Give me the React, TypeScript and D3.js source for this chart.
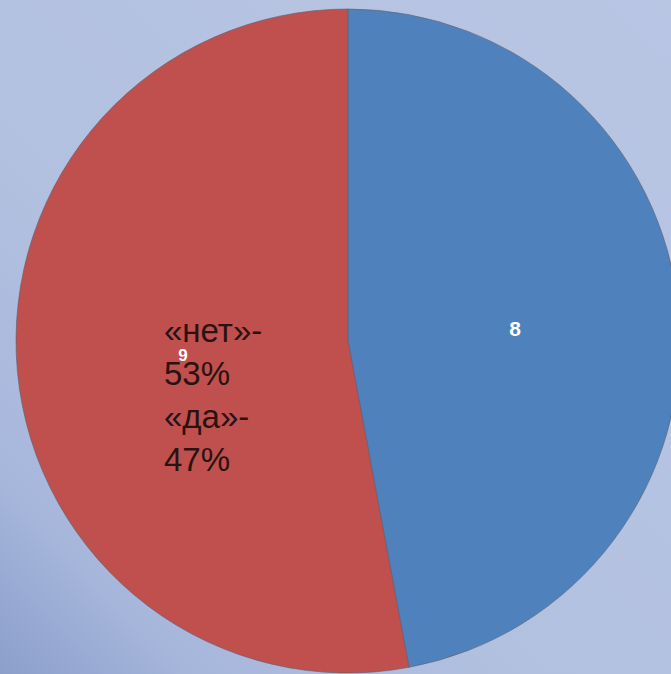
import React from "react";
import * as d3 from "d3";

const categories = ["да", "нет"];
const values = [8, 9];
const colors = ["#4f81bd", "#c0504d"];
const noteLines = ["«нет»-", "53%", "«да»-", "47%"];

const W = 671;
const H = 674;
const cx = 348;
const cy = 341;
const R = 332;

export default function App() {
  const pie = d3.pie<number>().sort(null).value((d) => d)(values);
  const arc = d3.arc<d3.PieArcDatum<number>>().innerRadius(0).outerRadius(R);
  const labelPos = [
    [167, -13],
    [-165, 14],
  ];
  const labelSize = [21, 17];
  return (
    <svg
      width={W}
      height={H}
      style={{ position: "absolute", left: 0, top: 0, display: "block" }}
      fontFamily="Liberation Sans, Arial, sans-serif"
    >
      <defs>
        <linearGradient id="bg" x1="1" y1="0" x2="0" y2="1">
          <stop offset="0" stopColor="#b8c5e3" />
          <stop offset="0.6" stopColor="#b3c1e0" />
          <stop offset="0.85" stopColor="#a7b7dc" />
          <stop offset="1" stopColor="#8b9fcb" />
        </linearGradient>
      </defs>
      <rect x={0} y={0} width={W} height={H} fill="url(#bg)" />
      <g transform={`translate(${cx},${cy})`}>
        {pie.map((p, i) => (
          <path
            key={categories[i]}
            d={arc(p) || ""}
            fill={colors[i]}
            stroke="#5a6070"
            strokeWidth={1}
            strokeOpacity={0.6}
          />
        ))}
        {pie.map((p, i) => (
          <text
            key={"l" + i}
            x={labelPos[i][0]}
            y={labelPos[i][1]}
            fill="#ffffff"
            fontWeight="bold"
            fontSize={labelSize[i]}
            textAnchor="middle"
            dominantBaseline="central"
          >
            {p.data}
          </text>
        ))}
      </g>
      {noteLines.map((t, i) => (
        <text
          key={"n" + i}
          x={164}
          y={342 + i * 43}
          fill="#2a1212"
          fontSize={33}
        >
          {t}
        </text>
      ))}
    </svg>
  );
}
